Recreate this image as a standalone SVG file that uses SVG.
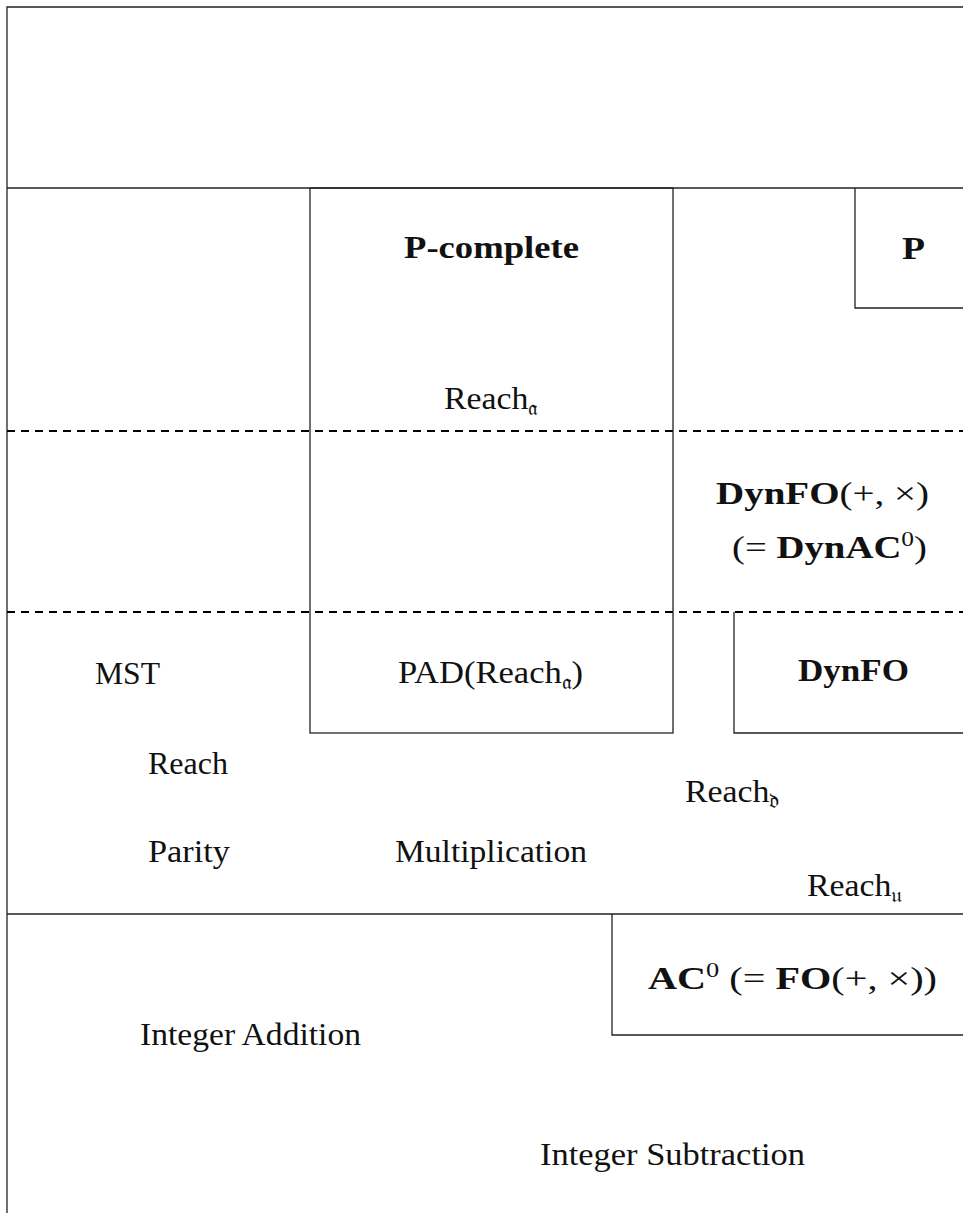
<svg xmlns="http://www.w3.org/2000/svg" width="963" height="1213" viewBox="0 0 963 1213">
<style>
.ln{fill:none;stroke:#222;stroke-width:1.3}
.dash{fill:none;stroke:#000;stroke-width:2;stroke-dasharray:8 6}
.t{font-family:"Liberation Serif","DejaVu Serif",serif;font-size:32px;fill:#111}
.b{font-weight:bold}
.sub{font-size:21px}
</style>
<rect width="963" height="1213" fill="#fff"/>
<g id="frame">
<polyline class="ln" points="963,7 7,7 7,1213"/>
<line class="ln" x1="7" y1="188" x2="963" y2="188"/>
<line class="dash" x1="7" y1="431" x2="963" y2="431"/>
<line class="dash" x1="7" y1="612" x2="963" y2="612"/>
<line class="ln" x1="7" y1="914" x2="963" y2="914"/>
</g>
<g id="connectors"></g>
<g id="p-complete">
<rect class="ln" x="310" y="188" width="363" height="545"/>
<text class="t b" x="404" y="258" textLength="175" lengthAdjust="spacingAndGlyphs">P-complete</text>
<text class="t" x="444" y="409" textLength="94" lengthAdjust="spacingAndGlyphs">Reach<tspan class="sub" dy="6">𝔞</tspan></text>
</g>
<g id="p">
<polyline class="ln" points="963,308 855,308 855,188"/>
<text class="t b" x="902" y="259" textLength="23" lengthAdjust="spacingAndGlyphs">P</text>
</g>
<g id="dynfo-plus-times">
<text class="t b" x="716" y="504" textLength="213" lengthAdjust="spacingAndGlyphs">DynFO<tspan font-weight="normal">(+, ×)</tspan></text>
<text class="t b" x="732" y="558" textLength="195" lengthAdjust="spacingAndGlyphs"><tspan font-weight="normal">(=</tspan> DynAC<tspan class="sub" font-weight="normal" dy="-12">0</tspan><tspan font-weight="normal" dy="12">)</tspan></text>
</g>
<g id="dynfo">
<polyline class="ln" points="734,612 734,733 963,733"/>
<text class="t b" x="798" y="681" textLength="111" lengthAdjust="spacingAndGlyphs">DynFO</text>
</g>
<g id="pad-reach">
<text class="t" x="398" y="683" textLength="185" lengthAdjust="spacingAndGlyphs">PAD(Reach<tspan class="sub" dy="6">𝔞</tspan><tspan dy="-6">)</tspan></text>
</g>
<g id="mst"><text class="t" x="95" y="684" textLength="65" lengthAdjust="spacingAndGlyphs">MST</text></g>
<g id="reach"><text class="t" x="148" y="774" textLength="80" lengthAdjust="spacingAndGlyphs">Reach</text></g>
<g id="reach-d"><text class="t" x="685" y="802" textLength="95" lengthAdjust="spacingAndGlyphs">Reach<tspan class="sub" dy="6">𝔡</tspan></text></g>
<g id="parity"><text class="t" x="148" y="862" textLength="82" lengthAdjust="spacingAndGlyphs">Parity</text></g>
<g id="multiplication"><text class="t" x="395" y="862" textLength="192" lengthAdjust="spacingAndGlyphs">Multiplication</text></g>
<g id="reach-u"><text class="t" x="807" y="896" textLength="95" lengthAdjust="spacingAndGlyphs">Reach<tspan class="sub" dy="6">𝔲</tspan></text></g>
<g id="ac0">
<polyline class="ln" points="612,914 612,1035 963,1035"/>
<text class="t b" x="648" y="989" textLength="289" lengthAdjust="spacingAndGlyphs">AC<tspan class="sub" font-weight="normal" dy="-12">0</tspan><tspan font-weight="normal" dy="12"> (=</tspan> FO<tspan font-weight="normal">(+, ×))</tspan></text>
</g>
<g id="integer-addition"><text class="t" x="140" y="1045" textLength="221" lengthAdjust="spacingAndGlyphs">Integer Addition</text></g>
<g id="integer-subtraction"><text class="t" x="540" y="1165" textLength="265" lengthAdjust="spacingAndGlyphs">Integer Subtraction</text></g>
</svg>
